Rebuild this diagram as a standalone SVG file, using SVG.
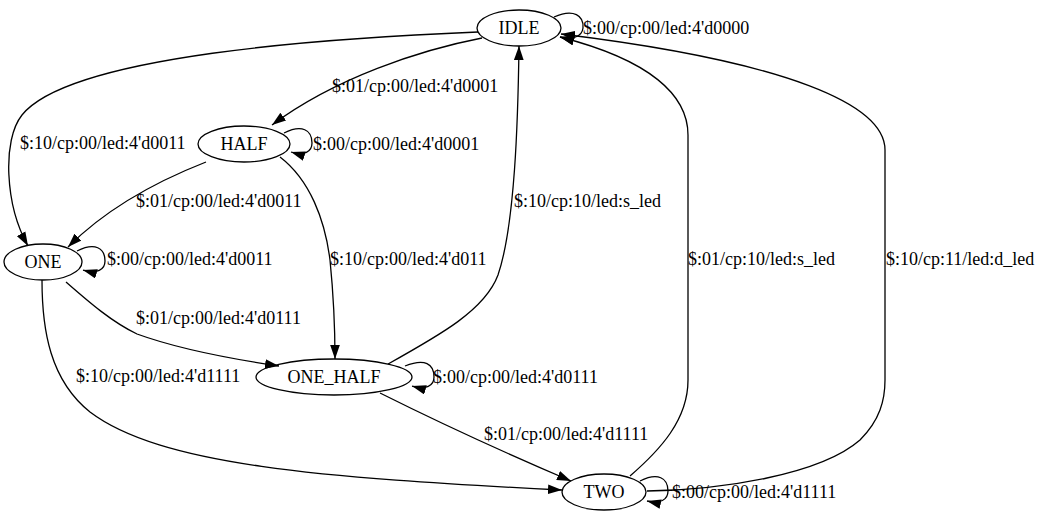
<svg xmlns="http://www.w3.org/2000/svg" width="1042" height="523" viewBox="0 0 1042 523">
<style>
text{font-family:"Liberation Serif","Times New Roman","DejaVu Serif",serif;font-size:18px;fill:#000}
.n ellipse{fill:none;stroke:#000;stroke-width:1.3}
.n text{text-anchor:middle}
.e path{fill:none;stroke:#000;stroke-width:1.3;marker-end:url(#ah)}
</style>
<defs>
<marker id="ah" markerUnits="userSpaceOnUse" markerWidth="14" markerHeight="10" refX="13" refY="4.5" orient="auto" viewBox="0 0 13 9">
<path d="M0,0 L13,4.5 L0,9 Z" fill="#000"/>
</marker>
</defs>
<rect width="1042" height="523" fill="#fff"/>
<g id="connectors" class="e">
<path d="M554,17 C574,8 584,16 583,28 C582,37 572,40 560,37"/>
<path d="M482,38 C420,50 335,78 272,125"/>
<path d="M478,32 C330,38 70,55 22,115 C2,140 5,205 28,246"/>
<path d="M284,133 C302,124 312,130 312,143 C312,152 304,156 291,152"/>
<path d="M206,162 C160,180 110,205 68,247"/>
<path d="M280,157 C310,180 325,220 330,260 C334,300 335,330 335,359"/>
<path d="M77,251 C95,242 105,248 105,261 C105,270 97,274 83,270"/>
<path d="M66,282 C90,303 112,322 137,334 C170,346 225,358 279,366"/>
<path d="M42,280 C42,330 50,380 90,412 C160,465 320,478 562,490"/>
<path d="M388,364 C440,335 485,310 498,275 C515,225 518,120 519,46"/>
<path d="M405,366 C425,358 434,364 434,377 C434,386 426,390 412,386"/>
<path d="M380,393 C430,418 510,455 571,481"/>
<path d="M630,476 C660,450 688,420 688,380 L688,135 C688,95 650,60 560,37"/>
<path d="M647,491 C720,490 820,475 860,440 C880,420 885,400 885,380 L885,150 C885,105 790,62 561,34"/>
<path d="M640,481 C658,472 668,478 668,491 C668,500 660,504 647,501"/>
</g>
<g id="labels">
<text x="583" y="34">$:00/cp:00/led:4'd0000</text>
<text x="332" y="92">$:01/cp:00/led:4'd0001</text>
<text x="20" y="149">$:10/cp:00/led:4'd0011</text>
<text x="313" y="150">$:00/cp:00/led:4'd0001</text>
<text x="136" y="207">$:01/cp:00/led:4'd0011</text>
<text x="514" y="207">$:10/cp:10/led:s_led</text>
<text x="107" y="265">$:00/cp:00/led:4'd0011</text>
<text x="330" y="265">$:10/cp:00/led:4'd011</text>
<text x="688" y="265">$:01/cp:10/led:s_led</text>
<text x="886" y="265">$:10/cp:11/led:d_led</text>
<text x="136" y="324">$:01/cp:00/led:4'd0111</text>
<text x="76" y="382">$:10/cp:00/led:4'd1111</text>
<text x="433" y="383">$:00/cp:00/led:4'd0111</text>
<text x="484" y="440">$:01/cp:00/led:4'd1111</text>
<text x="672" y="498">$:00/cp:00/led:4'd1111</text>
</g>
<g id="IDLE" class="n"><ellipse cx="519" cy="28" rx="42" ry="18"/><text x="519" y="34">IDLE</text></g>
<g id="HALF" class="n"><ellipse cx="244" cy="144" rx="46" ry="18"/><text x="244" y="150">HALF</text></g>
<g id="ONE" class="n"><ellipse cx="43" cy="262" rx="39" ry="18"/><text x="43" y="268">ONE</text></g>
<g id="ONE_HALF" class="n"><ellipse cx="334" cy="377" rx="78" ry="18"/><text x="334" y="383">ONE_HALF</text></g>
<g id="TWO" class="n"><ellipse cx="604" cy="492" rx="42" ry="18"/><text x="604" y="498">TWO</text></g>
</svg>
